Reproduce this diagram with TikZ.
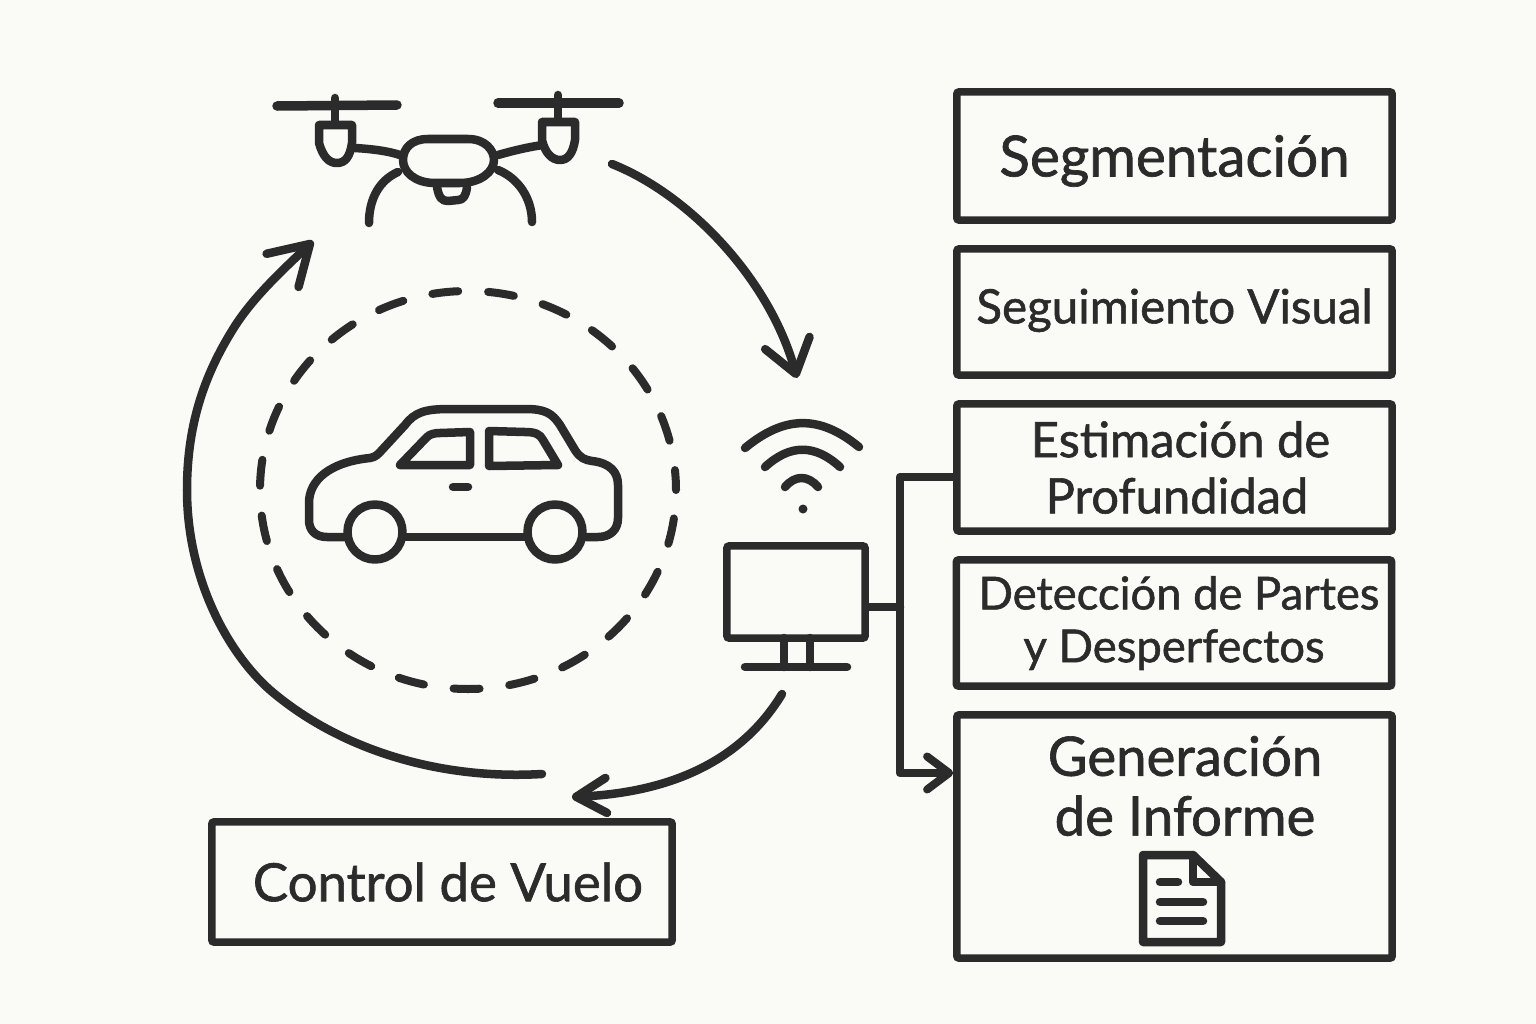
\documentclass[tikz,border=0pt]{standalone}
\usepackage{fontspec}
\setmainfont{Lato}[FakeBold=1.2]
\usetikzlibrary{arrows.meta}
\definecolor{ink}{HTML}{2B2B2B}
\definecolor{paper}{HTML}{FAFAF6}
\tikzset{
	thick line/.style={line width=0.085cm, color=ink, line cap=round, line join=round},
	flow/.style={line width=0.085cm, color=ink, line cap=round, line join=round},
	textbox/.style={draw=ink, line width=0.075cm, rounded corners=0.02cm, text=ink, minimum width=4.35cm, align=center, inner sep=0pt},
	boxtext/.style={text=ink, align=center, inner sep=0pt}
}
\begin{document}
\begin{tikzpicture}[x=0.01cm, y=-0.01cm]
		%%%%% START %%%%%
		\fill[paper] (0, 0) rectangle (1536, 1024);
		\useasboundingbox (0, 0) rectangle (1536, 1024);
		
		% right column
		\node[textbox, minimum height=1.28cm, font=\fontsize{16.1}{18}\selectfont] (segmentacion) at (1174.5, 156) {\raisebox{-1.4pt}[\height][\depth]{Segmentación}};
		\node[textbox, minimum height=1.26cm, font=\fontsize{13.5}{16}\selectfont] (seguimiento) at (1174.5, 312) {\raisebox{0.5pt}[\height][\depth]{Seguimiento Visual}};
		\node[textbox, minimum height=1.27cm, font=\fontsize{13.9}{16}\selectfont] (estimacion) at (1174.5, 467.5) {\hspace*{3.4pt}Estimación de\\\hspace*{1.4pt}Profundidad};
		\node[textbox, minimum height=1.26cm, font=\fontsize{12.9}{15}\selectfont] (deteccion) at (1174, 623) {\hspace*{2.8pt}Detección de Partes\\y Desperfectos};
		\node[textbox, minimum height=2.43cm] (generacion) at (1174.5, 836.5) {};
		\node[boxtext, font=\fontsize{15.5}{17}\selectfont] (generaciontext) at (1185, 786) {Generación\\de Informe};
		
		% report icon
		\draw[thick line] (1143, 855) -- (1193, 855) -- (1221, 882) -- (1221, 942) -- (1143, 942) -- cycle;
		\draw[thick line] (1193, 855) -- (1193, 882) -- (1221, 882);
		\draw[thick line] (1160, 882) -- (1178, 882);
		\draw[thick line] (1160, 902) -- (1203, 902);
		\draw[thick line] (1160, 921) -- (1203, 921);
		
		% bottom box
		\node[textbox, minimum width=4.6cm, minimum height=1.2cm, font=\fontsize{15}{18}\selectfont] (control) at (442, 882) {\hspace*{3.4pt}Control de Vuelo};
		
		% monitor
		\node[textbox, minimum width=1.38cm, minimum height=0.92cm] (monitor) at (796, 592) {};
		\draw[thick line] (784, 638) -- (784, 667);
		\draw[thick line] (810, 638) -- (810, 667);
		\draw[thick line] (745, 667) -- (847, 667);
		
		% wifi
		\draw[thick line] (745, 448) .. controls (785, 415) and (820, 415) .. (859, 447);
		\draw[thick line] (765, 467) .. controls (790, 444) and (815, 444) .. (840, 467);
		\draw[thick line] (785, 487) .. controls (795, 475) and (808, 475) .. (818, 487);
		\fill[ink] (803, 509) circle (4.5);
		
		% connectors on the right
		\coordinate (bus) at (900, 607);
		\coordinate (bustop) at (900, 477);
		\coordinate (buslow) at (900, 773);
		\draw[thick line] (monitor.east |- bus) -- (bus);
		\draw[thick line] (estimacion.west |- bustop) -- (bustop) -- (bus);
		\draw[flow, -{Straight Barb[length=0.22cm, width=0.33cm, line width=0.08cm, round]}] (bus) -- (buslow) -- (generacion.west |- buslow);
		
		% dashed circle
		\draw[line width=0.08cm, color=ink, line cap=round, dash pattern=on 0.26cm off 0.299cm, dash phase=0.274cm] (468, 490) ellipse [x radius=208, y radius=199];
		
		% car
		\draw[thick line] (345, 537) -- (327, 537) .. controls (315, 537) and (309, 530) .. (309, 520)
			-- (309, 503) .. controls (309, 480) and (330, 462) .. (370, 458)
			.. controls (376, 457) and (378, 454) .. (381, 451) -- (405, 425)
			.. controls (415, 412) and (425, 409) .. (450, 409) -- (525, 409)
			.. controls (545, 409) and (552, 413) .. (560, 425) -- (575, 450)
			.. controls (580, 458) and (585, 460) .. (592, 461)
			.. controls (610, 463) and (618, 472) .. (618, 485) -- (618, 518)
			.. controls (618, 530) and (610, 537) .. (598, 537) -- (586, 537);
		\draw[thick line] (405, 537) -- (526, 537);
		\draw[thick line] (375, 532) circle (27.5);
		\draw[thick line] (555, 532) circle (27.5);
		\draw[thick line] (400, 465) -- (427, 437) .. controls (430, 434) and (435, 433) .. (440, 433) -- (470, 432) -- (470, 465) -- cycle;
		\draw[thick line] (489, 431) -- (525, 432) .. controls (535, 432) and (540, 434) .. (543, 440) -- (558, 465) -- (489, 466) -- cycle;
		\draw[thick line] (453, 487) -- (468, 487);
		
		% drone
		\draw[line width=0.095cm, color=ink, line cap=round] (277, 106) -- (397, 105);
		\draw[line width=0.095cm, color=ink, line cap=round] (498, 103) -- (619, 103);
		\draw[thick line] (335, 98) -- (335, 122);
		\draw[thick line] (558, 95) -- (558, 118);
		\draw[thick line] (319, 125) -- (352, 125) -- (352, 143) .. controls (350, 157) and (345, 163) .. (337, 163)
			.. controls (329, 163) and (323, 157) .. (319, 143) -- cycle;
		\draw[thick line] (542, 122) -- (575, 122) -- (575, 140) .. controls (573, 153) and (568, 160) .. (560, 160)
			.. controls (552, 160) and (545, 153) .. (542, 140) -- cycle;
		\draw[thick line] (428, 139) -- (468, 139) .. controls (485, 139) and (494, 150) .. (494, 160)
			.. controls (494, 172) and (480, 183) .. (460, 183) -- (435, 183)
			.. controls (415, 183) and (403, 172) .. (403, 160)
			.. controls (403, 148) and (412, 139) .. (428, 139) -- cycle;
		\draw[thick line] (355, 148) .. controls (372, 149) and (388, 151) .. (400, 155);
		\draw[thick line] (498, 155) .. controls (512, 151) and (528, 147) .. (543, 145);
		\draw[thick line] (398, 172) .. controls (380, 180) and (369, 198) .. (369, 223);
		\draw[thick line] (498, 170) .. controls (518, 178) and (532, 198) .. (532, 222);
		\draw[thick line] (437, 187) .. controls (439, 198) and (442, 201) .. (448, 201) -- (458, 200) .. controls (463, 200) and (466, 196) .. (467, 187);
		
		% big arrows
		\coordinate (droneout) at (612, 164);
		\coordinate (wifiin) at (797, 378);
		\coordinate (pcout) at (782, 694);
		\coordinate (controlin) at (572, 797);
		\coordinate (controlout) at (542, 774);
		\coordinate (dronein) at (313, 241);
		\draw[flow, -{Straight Barb[length=0.32cm, width=0.46cm, line width=0.085cm, round]}] (droneout) .. controls (690, 195) and (770, 280) .. (wifiin);
		\draw[flow, -{Straight Barb[length=0.3cm, width=0.35cm, line width=0.085cm, round]}] (pcout) .. controls (745, 755) and (680, 792) .. (controlin);
		\draw[flow, -{Straight Barb[length=0.38cm, width=0.46cm, line width=0.085cm, round]}] (controlout) .. controls (440, 780) and (340, 750) .. (270, 690)
			.. controls (225, 650) and (187, 575) .. (187, 490)
			.. controls (187, 420) and (207, 370) .. (235, 326)
			.. controls (255, 295) and (285, 268) .. (dronein);
		
		%%%%% END %%%%%
	\end{tikzpicture}
\end{document}
